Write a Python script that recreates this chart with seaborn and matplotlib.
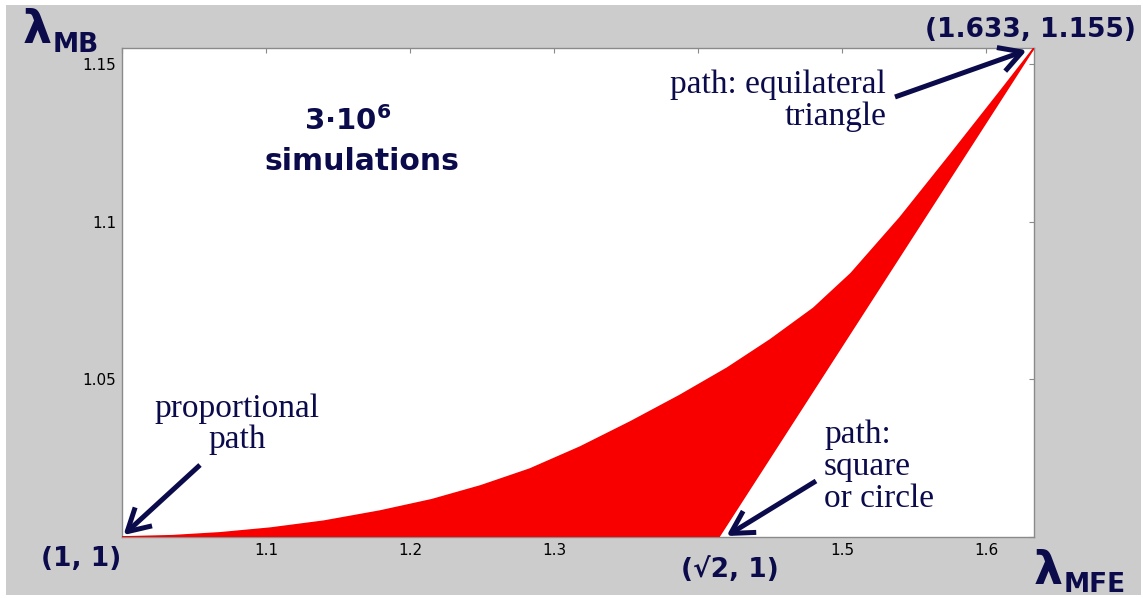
import matplotlib
matplotlib.use("Agg")
import matplotlib.pyplot as plt
import seaborn as sns
import pandas as pd
from matplotlib.patches import Rectangle

# Upper envelope of the simulated (lambda_MFE, lambda_MB) cloud
upper_mfe = [1.0, 1.035, 1.068, 1.103, 1.14, 1.179, 1.215, 1.249, 1.283, 1.318,
             1.353, 1.387, 1.42, 1.45, 1.48, 1.506, 1.54, 1.575, 1.61, 1.633]
upper_mb = [1.0, 1.0004, 1.0013, 1.0028, 1.0050, 1.0082, 1.0118, 1.0162, 1.0215, 1.0285,
            1.0365, 1.0448, 1.0535, 1.0625, 1.0725, 1.0835, 1.1012, 1.1212, 1.1415, 1.1550]
# Lower envelope: proportional path -> square/circle -> equilateral triangle
lower_mfe = [1.0, 1.4142, 1.633]
lower_mb = [1.0, 1.0, 1.155]

xticks = [1.0, 1.1, 1.2, 1.3, 1.4, 1.5, 1.6]
xticklabels = ["", "1.1", "1.2", "1.3", "", "1.5", "1.6"]
yticks = [1.0, 1.05, 1.1, 1.15]
yticklabels = ["", "1.05", "1.1", "1.15"]

W, H = 1143, 598
NAVY = "#0b0b4c"
RED = "#f80000"
GRAY_BG = "#cccccc"
SPINE = "#8a8a8a"

sns.set_style("white")
plt.rcParams["font.family"] = ["DejaVu Sans"]

fig = plt.figure(figsize=(W / 100, H / 100), dpi=100, facecolor="white")


def fx(px):
    return px / W


def fy(py):
    return 1 - py / H


# grey panel behind the axes
fig.patches.append(Rectangle((fx(6), fy(595)), fx(1141) - fx(6), fy(5) - fy(595),
                             transform=fig.transFigure, facecolor=GRAY_BG,
                             edgecolor="none", zorder=-10))

ax = fig.add_axes([fx(122), fy(537), fx(1034) - fx(122), fy(48) - fy(537)])
ax.set_facecolor("white")

# filled region between lower and upper envelopes
poly_x = upper_mfe + lower_mfe[::-1]
poly_y = upper_mb + lower_mb[::-1]
ax.fill(poly_x, poly_y, color=RED, lw=0, zorder=2)

up_df = pd.DataFrame({"mfe": upper_mfe, "mb": upper_mb})
lo_df = pd.DataFrame({"mfe": lower_mfe, "mb": lower_mb})
sns.lineplot(data=up_df, x="mfe", y="mb", ax=ax, color=RED, lw=1.2, sort=False, zorder=3)
sns.lineplot(data=lo_df, x="mfe", y="mb", ax=ax, color=RED, lw=1.2, sort=False, zorder=3)

ax.set_xlim(1.0, 1.633)
ax.set_ylim(1.0, 1.155)
ax.set_xticks(xticks)
ax.set_xticklabels(xticklabels)
ax.set_yticks(yticks)
ax.set_yticklabels(yticklabels)
ax.set_xlabel("")
ax.set_ylabel("")
ax.tick_params(direction="in", length=3.6, width=0.8, color=SPINE,
               top=True, right=True, labelsize=11, labelcolor="black", pad=4)
for s in ax.spines.values():
    s.set_color(SPINE)
    s.set_linewidth(1.0)
    s.set_visible(True)

bold = dict(family="DejaVu Sans", fontweight="bold", color=NAVY)
serif = dict(family="Liberation Serif", color=NAVY, fontsize=24)

# axis symbols
fig.text(fx(23), fy(43), "λ", fontsize=33, ha="left", va="baseline", **bold)
fig.text(fx(53), fy(52), "MB", fontsize=19, ha="left", va="baseline", **bold)
fig.text(fx(1034), fy(584), "λ", fontsize=33, ha="left", va="baseline", **bold)
fig.text(fx(1064), fy(592), "MFE", fontsize=19, ha="left", va="baseline", **bold)

# corner points
fig.text(fx(1030), fy(30), "(1.633, 1.155)", fontsize=19, ha="center", va="center", **bold)
fig.text(fx(81), fy(559), "(1, 1)", fontsize=19, ha="center", va="center", **bold)
fig.text(fx(730), fy(570), "(√2, 1)", fontsize=19, ha="center", va="center", **bold)

# simulation count
fig.text(fx(348), fy(121), r"3·10$^{\mathbf{6}}$", fontsize=21, ha="center", va="center", **bold)
fig.text(fx(362), fy(162), "simulations", fontsize=21.5, ha="center", va="center", **bold)

# path annotations
fig.text(fx(237), fy(417), "proportional", ha="center", va="baseline", **serif)
fig.text(fx(237), fy(448), "path", ha="center", va="baseline", **serif)
fig.text(fx(886), fy(93), "path: equilateral", ha="right", va="baseline", **serif)
fig.text(fx(886), fy(125), "triangle", ha="right", va="baseline", **serif)
fig.text(fx(824), fy(443), "path:", ha="left", va="baseline", **serif)
fig.text(fx(824), fy(475), "square", ha="left", va="baseline", **serif)
fig.text(fx(824), fy(507), "or circle", ha="left", va="baseline", **serif)

arrow = dict(arrowstyle="->,head_length=0.8,head_width=0.45", color=NAVY, lw=3.6,
             shrinkA=0, shrinkB=0, mutation_scale=20, capstyle="butt")
ax.annotate("", xy=(1.001, 1.0006), xycoords="data",
            xytext=(fx(200), fy(465)), textcoords="figure fraction",
            arrowprops=arrow, annotation_clip=False)
ax.annotate("", xy=(1.4195, 1.0003), xycoords="data",
            xytext=(fx(816), fy(481)), textcoords="figure fraction",
            arrowprops=arrow, annotation_clip=False)
ax.annotate("", xy=(1.628, 1.1543), xycoords="data",
            xytext=(fx(895), fy(97)), textcoords="figure fraction",
            arrowprops=arrow, annotation_clip=False)

fig.savefig("out.png", dpi=100, facecolor=fig.get_facecolor())
